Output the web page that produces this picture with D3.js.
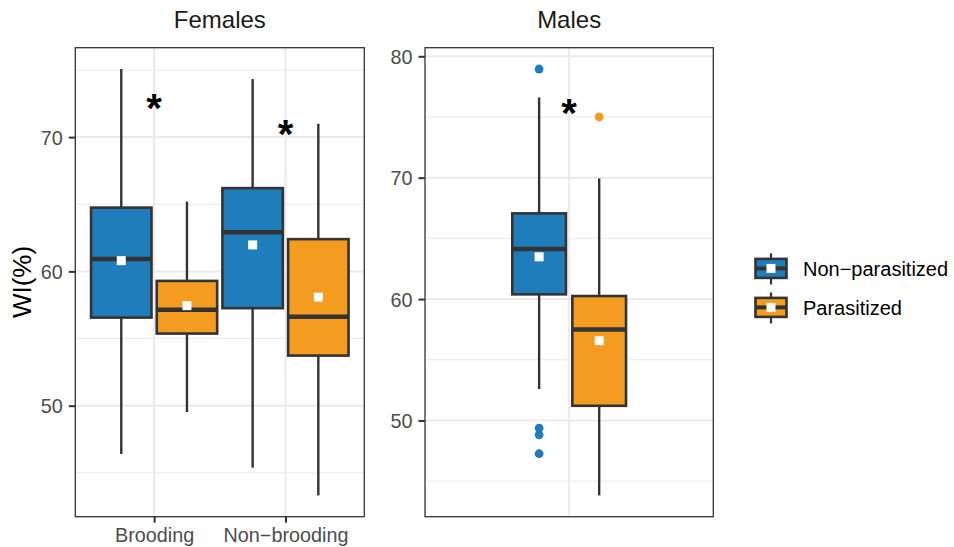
<!DOCTYPE html>
<html>
<head>
<meta charset="utf-8">
<script src="https://cdn.jsdelivr.net/npm/d3@7"></script>
<style>
  html, body { margin: 0; padding: 0; background: #fff; }
  svg { display: block; font-family: "Liberation Sans", Arial, Helvetica, sans-serif; }
</style>
</head>
<body>
<svg id="chart" width="954" height="547"></svg>
<script>
// ---- data ----------------------------------------------------------------
const seriesNames = ["Non\u2212parasitized", "Parasitized"];
const seriesColors = ["#1f7dbb", "#f39c1f"];

// Box statistics: [lower whisker, Q1, median, Q3, upper whisker, mean]
const femaleCategories = ["Brooding", "Non\u2212brooding"];
const femaleNonParasitized = [
  [46.4, 56.56, 60.93, 64.75, 75.07, 60.8],
  [45.38, 57.26, 62.92, 66.2, 74.32, 61.97]
];
const femaleParasitized = [
  [49.53, 55.37, 57.15, 59.29, 65.2, 57.45],
  [43.32, 53.73, 56.63, 62.4, 70.99, 58.08]
];
const femaleTicks = [50, 60, 70];
const femaleMinor = [45, 55, 65, 75];
const femaleStars = [72.65, 70.67];

const maleCategories = [""];
const maleNonParasitized = [[52.59, 60.39, 64.12, 67.06, 76.61, 63.48]];
const maleParasitized = [[43.83, 51.21, 57.5, 60.25, 69.94, 56.57]];
const maleNonParasitizedOutliers = [78.95, 49.37, 48.82, 47.26];
const maleParasitizedOutliers = [75.0];
const maleTicks = [50, 60, 70, 80];
const maleMinor = [45, 55, 65, 75];
const maleStars = [75.84];

// ---- layout --------------------------------------------------------------
const svg = d3.select("#chart");
const panelTop = 47.7, panelBottom = 516.7;
const dark = "#333333";
const grid = "#ebebeb";

function expand(values) {
  const lo = d3.min(values), hi = d3.max(values);
  const pad = (hi - lo) * 0.05;
  return [lo - pad, hi + pad];
}

function drawPanel(cfg) {
  const g = svg.append("g");
  const allVals = [];
  cfg.series.forEach(s => s.forEach(b => allVals.push(b[0], b[4])));
  cfg.outliers.forEach(o => o.forEach(v => allVals.push(v)));
  const y = d3.scaleLinear().domain(expand(allVals)).range([panelBottom, panelTop]);
  const x = d3.scalePoint().domain(cfg.categories).range([cfg.left, cfg.right]).padding(0.6);
  const step = x.step();

  // background grid
  g.selectAll("line.minor").data(cfg.minor).join("line")
    .attr("x1", cfg.left).attr("x2", cfg.right)
    .attr("y1", d => y(d)).attr("y2", d => y(d))
    .attr("stroke", grid).attr("stroke-width", 1);
  g.selectAll("line.majorY").data(cfg.ticks).join("line")
    .attr("x1", cfg.left).attr("x2", cfg.right)
    .attr("y1", d => y(d)).attr("y2", d => y(d))
    .attr("stroke", grid).attr("stroke-width", 2);
  g.selectAll("line.majorX").data(cfg.categories).join("line")
    .attr("x1", d => x(d)).attr("x2", d => x(d))
    .attr("y1", panelTop).attr("y2", panelBottom)
    .attr("stroke", grid).attr("stroke-width", 2);

  // boxes
  const bw = cfg.boxWidth * step;
  cfg.series.forEach((s, si) => {
    const off = (si === 0 ? -1 : 1) * cfg.dodge * step;
    s.forEach((b, ci) => {
      const cx = x(cfg.categories[ci]) + off;
      const bg = g.append("g");
      bg.append("line").attr("x1", cx).attr("x2", cx)
        .attr("y1", y(b[4])).attr("y2", y(b[3]))
        .attr("stroke", dark).attr("stroke-width", 2.4);
      bg.append("line").attr("x1", cx).attr("x2", cx)
        .attr("y1", y(b[1])).attr("y2", y(b[0]))
        .attr("stroke", dark).attr("stroke-width", 2.4);
      bg.append("rect").attr("x", cx - bw / 2).attr("width", bw)
        .attr("y", y(b[3])).attr("height", y(b[1]) - y(b[3]))
        .attr("fill", seriesColors[si]).attr("stroke", dark).attr("stroke-width", 2.6);
      bg.append("line").attr("x1", cx - bw / 2).attr("x2", cx + bw / 2)
        .attr("y1", y(b[2])).attr("y2", y(b[2]))
        .attr("stroke", dark).attr("stroke-width", 4.5);
      bg.append("rect").attr("x", cx - 4.5).attr("y", y(b[5]) - 4.5)
        .attr("width", 9).attr("height", 9).attr("fill", "#ffffff");
    });
    // outliers
    const oc = x(cfg.categories[0]) + off;
    g.selectAll(null).data(cfg.outliers[si] || []).join("circle")
      .attr("cx", oc).attr("cy", d => y(d)).attr("r", 4.4)
      .attr("fill", seriesColors[si]);
  });

  // significance marks
  g.selectAll("text.star").data(cfg.stars).join("text")
    .attr("x", (d, i) => x(cfg.categories[i]))
    .attr("y", d => y(d) + 0.5 * 40)
    .attr("text-anchor", "middle")
    .attr("font-size", 40).attr("font-weight", "bold").attr("fill", "#000")
    .text("*");

  // panel border
  g.append("rect").attr("x", cfg.left).attr("y", panelTop)
    .attr("width", cfg.right - cfg.left).attr("height", panelBottom - panelTop)
    .attr("fill", "none").attr("stroke", dark).attr("stroke-width", 1.3);

  // y axis
  const yAxis = d3.axisLeft(y).tickValues(cfg.ticks).tickSize(6.5).tickPadding(6);
  const ya = g.append("g").attr("transform", `translate(${cfg.left},0)`).call(yAxis);
  ya.select(".domain").remove();
  ya.selectAll(".tick line").attr("stroke", dark).attr("stroke-width", 2);
  ya.selectAll(".tick text").attr("fill", "#4d4d4d").attr("font-size", 19.8)
    .attr("font-family", "Liberation Sans, Arial, sans-serif").attr("dy", "0.36em");

  // x axis
  if (cfg.showX) {
    const xAxis = d3.axisBottom(x).tickSize(6).tickPadding(5);
    const xa = g.append("g").attr("transform", `translate(0,${panelBottom})`).call(xAxis);
    xa.select(".domain").remove();
    xa.selectAll(".tick line").attr("stroke", dark).attr("stroke-width", 2);
    xa.selectAll(".tick text").attr("fill", "#4d4d4d").attr("font-size", 19.8)
      .attr("font-family", "Liberation Sans, Arial, sans-serif").attr("dy", "0.72em");
  }

  // panel title
  svg.append("text").attr("x", (cfg.left + cfg.right) / 2).attr("y", 28)
    .attr("text-anchor", "middle").attr("font-size", 24).attr("fill", "#1a1a1a")
    .text(cfg.title);
}

drawPanel({
  title: "Females", left: 75.3, right: 364.3,
  categories: femaleCategories,
  series: [femaleNonParasitized, femaleParasitized],
  outliers: [[], []],
  ticks: femaleTicks, minor: femaleMinor, stars: femaleStars,
  boxWidth: 0.46, dodge: 0.25, showX: true
});

drawPanel({
  title: "Males", left: 425, right: 713.3,
  categories: maleCategories,
  series: [maleNonParasitized, maleParasitized],
  outliers: [maleNonParasitizedOutliers, maleParasitizedOutliers],
  ticks: maleTicks, minor: maleMinor, stars: maleStars,
  boxWidth: 0.2235, dodge: 0.125, showX: false
});

// y axis title
svg.append("text")
  .attr("transform", "translate(31,282) rotate(-90)")
  .attr("text-anchor", "middle").attr("font-size", 26).attr("fill", "#000")
  .text("WI(%)");

// legend
const legendY = [268.4, 307.4];
const leg = svg.append("g");
seriesNames.forEach((name, i) => {
  const cy = legendY[i], cx = 771;
  const k = leg.append("g");
  k.append("line").attr("x1", cx).attr("x2", cx).attr("y1", cy - 15).attr("y2", cy + 16)
    .attr("stroke", dark).attr("stroke-width", 2.2);
  k.append("rect").attr("x", cx - 15.5).attr("y", cy - 9.5).attr("width", 31).attr("height", 19)
    .attr("fill", seriesColors[i]).attr("stroke", dark).attr("stroke-width", 2.6);
  k.append("line").attr("x1", cx - 15.5).attr("x2", cx + 15.5).attr("y1", cy).attr("y2", cy)
    .attr("stroke", dark).attr("stroke-width", 4);
  k.append("rect").attr("x", cx - 4.5).attr("y", cy - 4.5).attr("width", 9).attr("height", 9)
    .attr("fill", "#fff");
  leg.append("text").attr("x", 803).attr("y", cy).attr("dy", "0.36em")
    .attr("font-size", 20).attr("fill", "#000").text(name);
});
</script>
</body>
</html>
